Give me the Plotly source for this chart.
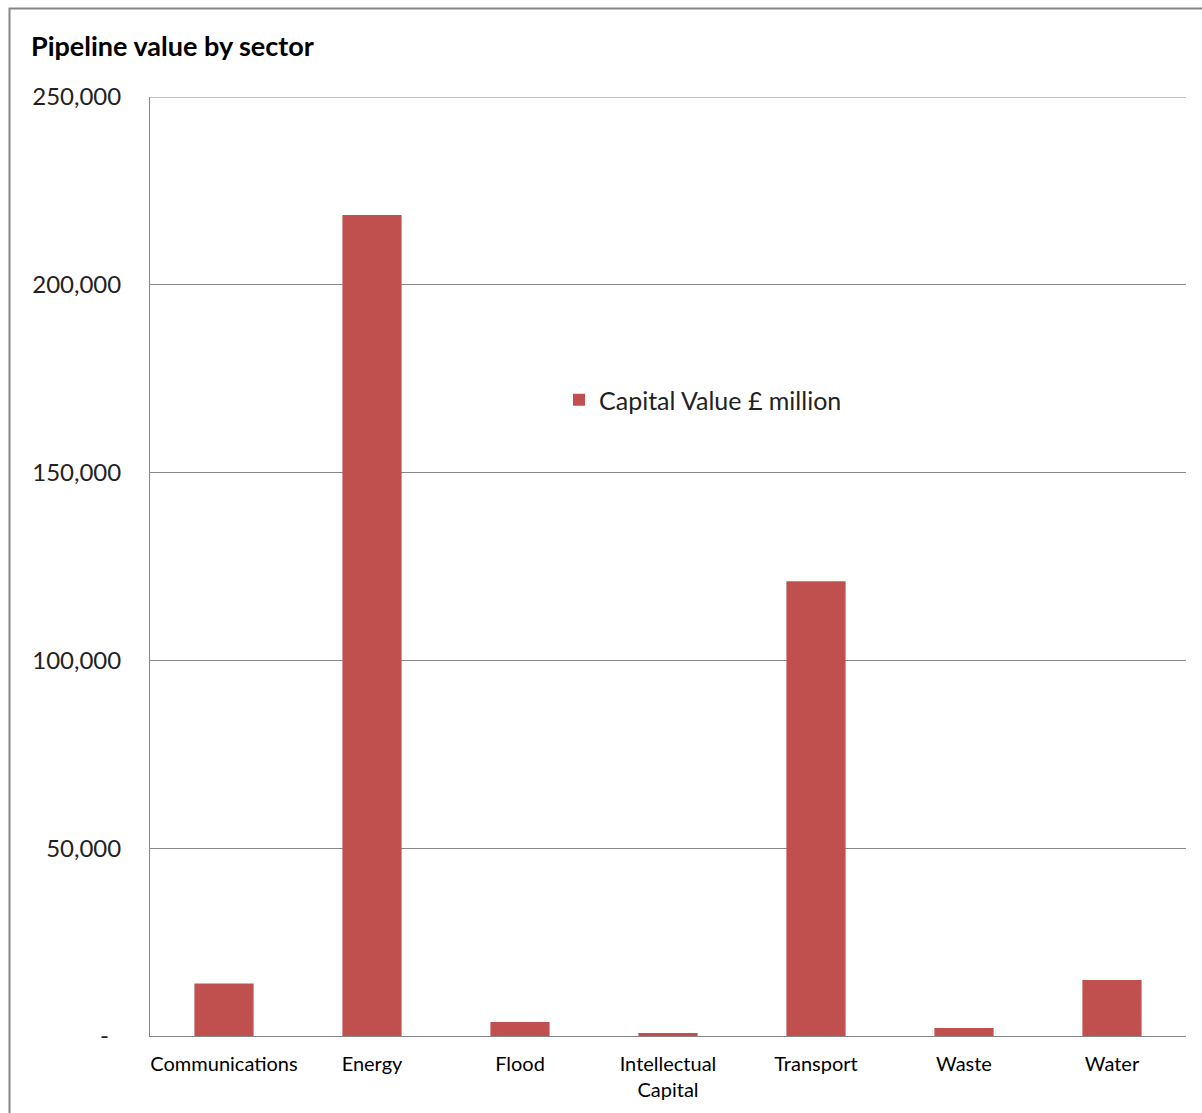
import plotly.graph_objects as go

categories = ["Communications", "Energy", "Flood", "Intellectual<br>Capital", "Transport", "Waste", "Water"]
values = [14000, 218600, 3700, 800, 121100, 2100, 14900]
series_name = "Capital Value £ million"
y_tickvals = [0, 50000, 100000, 150000, 200000, 250000]
y_ticktext = ["-\u00a0\u00a0", "50,000", "100,000", "150,000", "200,000", "250,000"]

W, H = 1202, 1113
L, R, T, B = 150, 16, 97, 77
pw, ph = W - L - R, H - T - B

def px(x):
    return (x - L) / pw

def py(y):
    return (H - B - y) / ph

fig = go.Figure()
fig.add_trace(go.Bar(
    x=categories, y=values, name=series_name,
    marker=dict(color="#C0504D", line=dict(width=0)),
    showlegend=True,
))

fig.update_layout(
    width=W, height=H,
    margin=dict(l=L, r=R, t=T, b=B, pad=0, autoexpand=False),
    paper_bgcolor="white", plot_bgcolor="white",
    bargap=0.6,
    font=dict(family="Lato, Open Sans, sans-serif", color="#000000"),
    title=dict(text="<b>Pipeline value by sector</b>", x=31 / W, xref="container", xanchor="left",
               y=1 - 47 / H, yref="container", yanchor="middle",
               font=dict(size=27, family="Lato, sans-serif", color="#000")),
    legend=dict(x=px(559), y=py(400), xanchor="left", yanchor="middle", bgcolor="rgba(0,0,0,0)",
                font=dict(size=25, family="Lato, sans-serif", color="#222"), itemwidth=30,
                itemsizing="constant"),
    xaxis=dict(showgrid=False, showline=True, linecolor="#868686", linewidth=1,
               tickfont=dict(size=20, family="Lato, sans-serif", color="#000"),
               ticks="", ticklen=0, ticklabelstandoff=10, fixedrange=True, automargin=False),
    yaxis=dict(range=[0, 250000], tickvals=y_tickvals, ticktext=y_ticktext,
               showgrid=True, gridcolor="#868686", gridwidth=1,
               showline=True, linecolor="#868686", linewidth=1,
               tickfont=dict(size=24, family="Lato, sans-serif", color="#222"),
               ticks="", ticklabelstandoff=23, zeroline=False, automargin=False),
    shapes=[dict(type="rect", xref="paper", yref="paper",
                 x0=px(9.5), y0=py(1125), x1=px(1215), y1=py(8.5),
                 line=dict(color="#868686", width=2), fillcolor="rgba(0,0,0,0)", layer="below"),
            dict(type="line", xref="paper", yref="y", x0=0, x1=1, y0=250000, y1=250000,
                 line=dict(color="#868686", width=1))],
)

fig.write_html("out.html")
